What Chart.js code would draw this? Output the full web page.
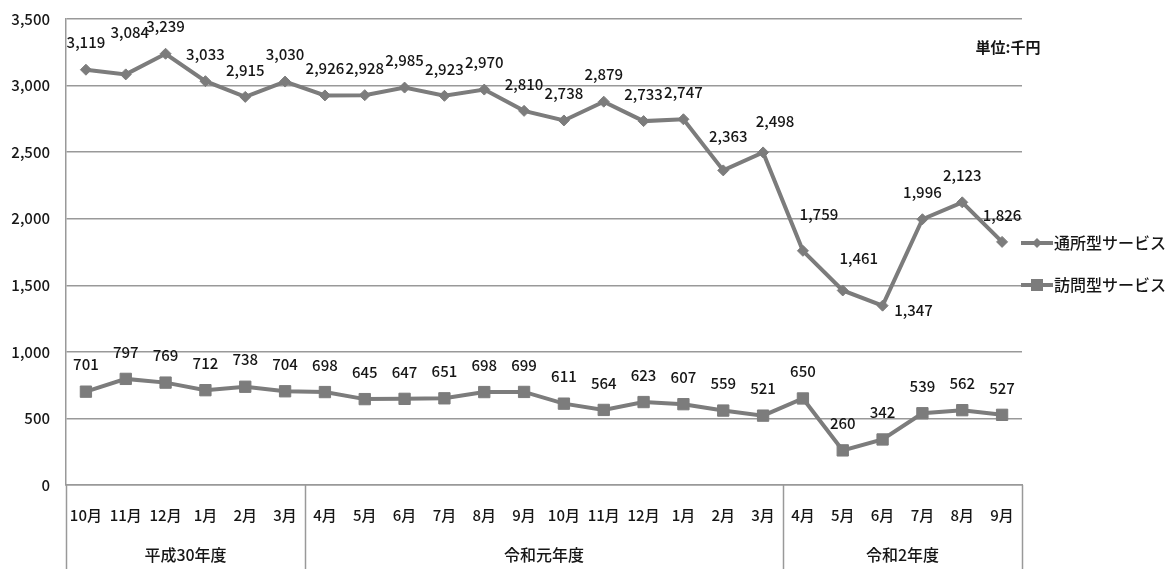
<!DOCTYPE html>
<html>
<head>
<meta charset="utf-8">
<script src="https://cdn.jsdelivr.net/npm/chart.js@4"></script>
<style>
  html, body { margin: 0; padding: 0; background: #fff; }
</style>
</head>
<body>
<canvas id="serviceChart" width="1173" height="569"></canvas>
<script>
const months = ['10月', '11月', '12月', '1月', '2月', '3月',
  '4月', '5月', '6月', '7月', '8月', '9月', '10月', '11月', '12月', '1月', '2月', '3月',
  '4月', '5月', '6月', '7月', '8月', '9月'];
const fiscalYears = ['平成30年度', '令和元年度', '令和2年度'];
const fiscalYearMonths = [6, 12, 6];

const tsushoValues = [3119, 3084, 3239, 3033, 2915, 3030, 2926, 2928, 2985, 2923, 2970, 2810,
  2738, 2879, 2733, 2747, 2363, 2498, 1759, 1461, 1347, 1996, 2123, 1826];
const homonValues = [701, 797, 769, 712, 738, 704, 698, 645, 647, 651, 698, 699,
  611, 564, 623, 607, 559, 521, 650, 260, 342, 539, 562, 527];

const seriesNames = ['通所型サービス', '訪問型サービス'];
const unitText = '単位:千円';

const GRAY = '#7c7c7c';
const LINE = '#999999';
const TEXT = '#161616';
const FONT = '"Noto Sans CJK JP", "Noto Sans", sans-serif';

const fmt = v => v.toLocaleString('en-US');

// a few value labels sit off the default "above" spot
const labelShift = {
  '0-1': [4, -15],
  '0-18': [16, -10],
  '0-19': [16, -5],
  '0-20': [31, 32],
  '0-16': [5, -7],
  '0-17': [12, -4]
};

const valueLabels = {
  id: 'valueLabels',
  afterDatasetsDraw(chart) {
    const ctx = chart.ctx;
    ctx.save();
    ctx.font = '500 15px ' + FONT;
    ctx.fillStyle = TEXT;
    ctx.textAlign = 'center';
    ctx.textBaseline = 'middle';
    chart.data.datasets.forEach((ds, di) => {
      chart.getDatasetMeta(di).data.forEach((pt, i) => {
        const s = labelShift[di + '-' + i] || [0, 0];
        ctx.fillText(fmt(ds.data[i]), pt.x + s[0], pt.y - 27 + s[1]);
      });
    });
    ctx.restore();
  }
};

const axisDecor = {
  id: 'axisDecor',
  afterDraw(chart) {
    const ctx = chart.ctx;
    const { left, right, bottom } = chart.chartArea;
    const H = chart.height;
    const step = (right - left) / months.length;
    ctx.save();
    ctx.strokeStyle = LINE;
    ctx.lineWidth = 1.5;

    // fiscal-year boxes under the month labels
    let k = 0;
    const edges = [0];
    fiscalYearMonths.forEach(n => { k += n; edges.push(k); });
    edges.forEach(e => {
      const x = Math.round(left + e * step) + 0.5;
      ctx.beginPath();
      ctx.moveTo(x, bottom);
      ctx.lineTo(x, H);
      ctx.stroke();
    });
    ctx.font = '500 16px ' + FONT;
    ctx.fillStyle = TEXT;
    ctx.textAlign = 'center';
    ctx.textBaseline = 'middle';
    fiscalYears.forEach((name, i) => {
      const cx = left + (edges[i] + edges[i + 1]) / 2 * step;
      ctx.fillText(name, cx, 555);
    });

    // unit note
    ctx.font = 'bold 15px ' + FONT;
    ctx.fillText(unitText, 1008, 47);

    // legend
    const rows = [243, 285];
    ctx.font = '500 16px ' + FONT;
    ctx.textAlign = 'left';
    rows.forEach((y, i) => {
      ctx.strokeStyle = GRAY;
      ctx.lineWidth = 4;
      ctx.beginPath();
      ctx.moveTo(1021, y);
      ctx.lineTo(1053, y);
      ctx.stroke();
      ctx.fillStyle = GRAY;
      ctx.beginPath();
      if (i === 0) {
        ctx.moveTo(1037, y - 5); ctx.lineTo(1042, y); ctx.lineTo(1037, y + 5); ctx.lineTo(1032, y);
      } else {
        ctx.rect(1031, y - 6, 12, 12);
      }
      ctx.fill();
      ctx.fillStyle = TEXT;
      ctx.fillText(seriesNames[i], 1054, y);
    });
    ctx.restore();
  }
};

new Chart(document.getElementById('serviceChart'), {
  type: 'line',
  data: {
    labels: months,
    datasets: [{
      label: seriesNames[0],
      data: tsushoValues,
      borderColor: GRAY,
      backgroundColor: GRAY,
      borderWidth: 4,
      pointStyle: 'rectRot',
      pointRadius: 5.5,
      pointBorderWidth: 1,
      tension: 0
    }, {
      label: seriesNames[1],
      data: homonValues,
      borderColor: GRAY,
      backgroundColor: GRAY,
      borderWidth: 4,
      pointStyle: 'rect',
      pointRadius: 8,
      pointBorderWidth: 1,
      tension: 0
    }]
  },
  options: {
    responsive: false,
    animation: false,
    layout: { padding: { top: 19, right: 151, left: 0, bottom: 0 } },
    scales: {
      x: {
        offset: true,
        afterFit: s => { s.height = 84; },
        grid: { display: false, drawTicks: false },
        border: { display: true, color: LINE, width: 1.5 },
        ticks: {
          autoSkip: false,
          maxRotation: 0,
          padding: 21,
          color: TEXT,
          font: { size: 15, family: FONT, weight: '500' }
        }
      },
      y: {
        min: 0,
        max: 3500,
        afterFit: s => { s.width = 66; s.paddingTop = 0; s.paddingBottom = 0; },
        grid: { color: LINE, lineWidth: 1.5, drawTicks: false },
        border: { display: true, color: LINE, width: 1.5 },
        ticks: {
          stepSize: 500,
          padding: 16,
          color: TEXT,
          font: { size: 15, family: FONT, weight: '500' },
          callback: v => fmt(v)
        }
      }
    },
    plugins: {
      legend: { display: false },
      tooltip: { enabled: false }
    }
  },
  plugins: [valueLabels, axisDecor]
});
</script>
</body>
</html>
